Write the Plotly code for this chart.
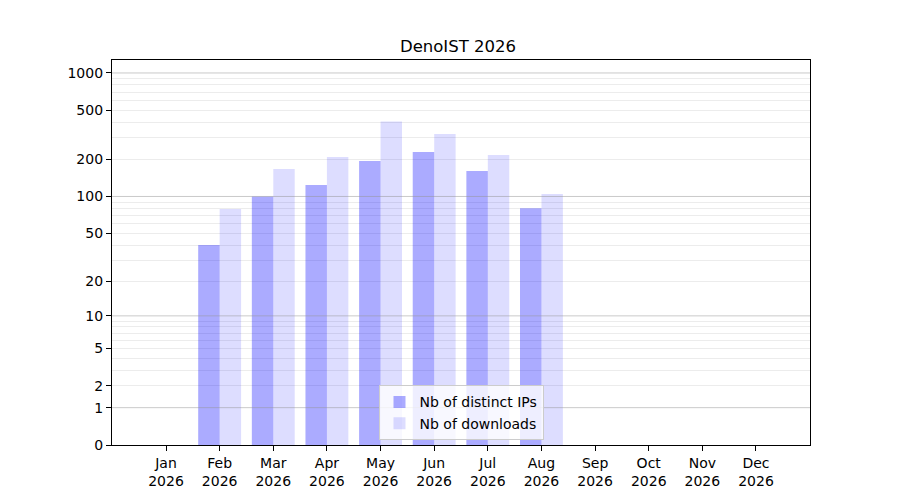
import numpy as np
import plotly.graph_objects as go

months = ['Jan', 'Feb', 'Mar', 'Apr', 'May', 'Jun', 'Jul', 'Aug', 'Sep', 'Oct', 'Nov', 'Dec']
year = 2026
distinct_ips = [0, 40, 100, 124, 194, 230, 161, 80, 0, 0, 0, 0]
downloads = [0, 79, 167, 209, 405, 321, 217, 105, 0, 0, 0, 0]

tick_vals = [0, 1, 2, 5, 10, 20, 50, 100, 200, 500, 1000]
major_vals = [1, 10, 100, 1000]
minor_vals = [2, 3, 4, 5, 6, 7, 8, 9, 20, 30, 40, 50, 60, 70, 80, 90,
              200, 300, 400, 500, 600, 700, 800, 900]


def tr(v):
    # log10(1 + y) scale, the same as the one the reference uses
    return np.log10(1 + np.asarray(v, dtype=float))


x = np.arange(len(months))
font = dict(family='DejaVu Sans', size=14, color='black')

fig = go.Figure()
fig.add_trace(go.Bar(x=x, y=tr(distinct_ips), width=0.4, offset=-0.4,
                     marker=dict(color='rgba(0,0,255,0.33)', line_width=0),
                     name='Nb of distinct IPs'))
fig.add_trace(go.Bar(x=x, y=tr(downloads), width=0.4, offset=0,
                     marker=dict(color='rgba(0,0,255,0.135)', line_width=0),
                     name='Nb of downloads'))

# darker grid lines at the decades, drawn over the bars as in the reference
for v in tr(major_vals):
    fig.add_shape(type='line', xref='paper', x0=0, x1=1, yref='y', y0=v, y1=v,
                  line=dict(color='rgba(150,150,150,0.5)', width=1), layer='above')

fig.update_layout(
    width=900, height=500,
    margin=dict(l=104, r=98, t=52, b=63),
    plot_bgcolor='white', paper_bgcolor='white',
    font=font,
    title=dict(text='DenoIST %d' % year, x=0.5, xanchor='center', y=0.924, yanchor='middle',
               font=dict(family='DejaVu Sans', size=16.5, color='black')),
    barmode='overlay',
    showlegend=True,
    legend=dict(x=0.5, xanchor='center', y=0.012, yanchor='bottom',
                bgcolor='rgba(255,255,255,0.8)', bordercolor='#cccccc', borderwidth=1,
                font=font, traceorder='normal'),
    xaxis=dict(range=[-1.007, 12.007], tickmode='array', tickvals=x,
               ticktext=['%s<br>%d' % (m, year) for m in months],
               showgrid=False, zeroline=False, showline=True, linecolor='black',
               linewidth=1.2, mirror=True, ticks='outside', ticklen=5, tickcolor='black'),
    yaxis=dict(range=[0, 3.105], tickmode='array', tickvals=tr(tick_vals),
               ticktext=[str(v) for v in tick_vals],
               showgrid=False, zeroline=False, showline=True, linecolor='black',
               linewidth=1.2, mirror=True, ticks='outside', ticklen=5, tickcolor='black',
               minor=dict(tickmode='array', tickvals=tr(minor_vals), showgrid=True,
                          gridcolor='#ececec', gridwidth=1, ticks='')),
)

fig.write_html('out.html')
